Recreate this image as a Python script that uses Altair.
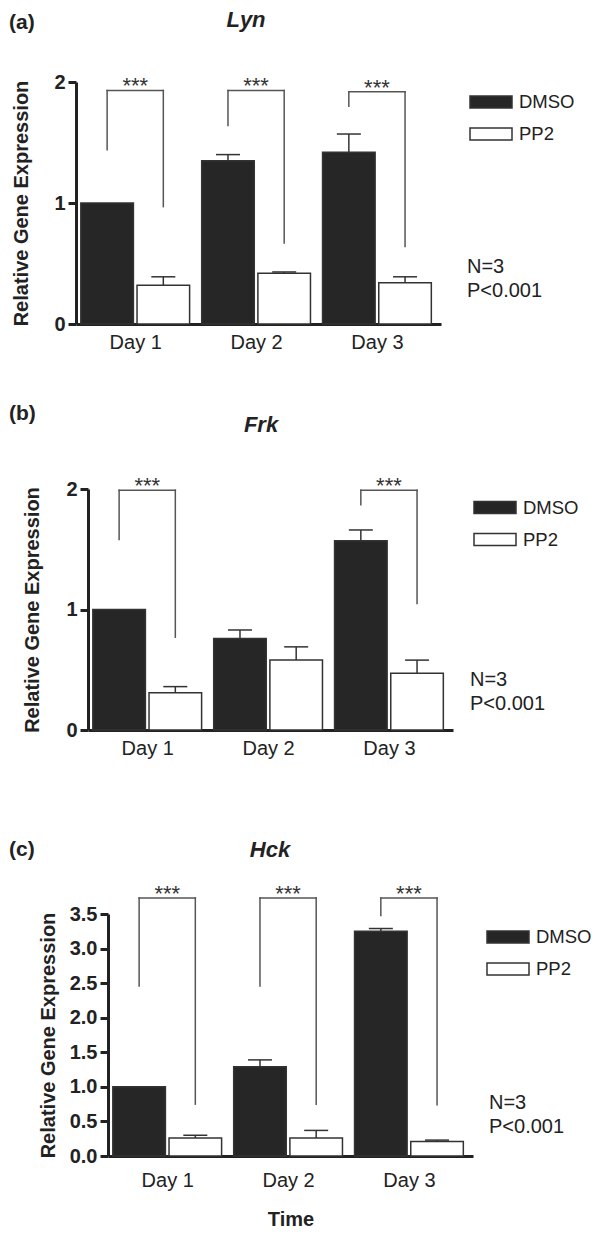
import altair as alt
import pandas as pd

FONT = "Liberation Sans"
INK = "#222222"

days = ["Day 1", "Day 2", "Day 3"]
treatments = ["DMSO", "PP2"]
bar_colors = ["#262626", "#ffffff"]
stats_text = ["N=3", "P<0.001"]

# (a) Lyn
lyn_dmso = [1.00, 1.35, 1.42]
lyn_dmso_err = [0.00, 0.05, 0.15]
lyn_pp2 = [0.32, 0.42, 0.34]
lyn_pp2_err = [0.07, 0.01, 0.05]
lyn_sig_days = ["Day 1", "Day 2", "Day 3"]
lyn_sig_top = [1.93, 1.93, 1.92]
lyn_sig_left = [1.44, 1.64, 1.80]
lyn_sig_right = [0.97, 0.67, 0.64]
lyn_ticks = [0.0, 1.0, 2.0]

# (b) Frk
frk_dmso = [1.00, 0.76, 1.57]
frk_dmso_err = [0.00, 0.07, 0.09]
frk_pp2 = [0.31, 0.58, 0.47]
frk_pp2_err = [0.05, 0.11, 0.11]
frk_sig_days = ["Day 1", "Day 3"]
frk_sig_top = [1.99, 1.99]
frk_sig_left = [1.58, 1.87]
frk_sig_right = [0.77, 1.05]
frk_ticks = [0.0, 1.0, 2.0]

# (c) Hck
hck_dmso = [1.00, 1.29, 3.25]
hck_dmso_err = [0.00, 0.10, 0.04]
hck_pp2 = [0.26, 0.26, 0.21]
hck_pp2_err = [0.04, 0.11, 0.02]
hck_sig_days = ["Day 1", "Day 2", "Day 3"]
hck_sig_top = [3.73, 3.73, 3.73]
hck_sig_left = [2.46, 2.46, 3.48]
hck_sig_right = [0.75, 0.75, 0.74]
hck_ticks = [0, 0.5, 1, 1.5, 2, 2.5, 3, 3.5]

HALF_GROUP = 0.2325   # distance of a bar centre from its day centre
HALF_BAR = 0.2175     # half bar width (x units)


def spacer():
    return alt.Chart(pd.DataFrame({"v": [0]})).mark_rect(opacity=0).encode(
        x=alt.value(0), x2=alt.value(1), y=alt.value(0), y2=alt.value(1)
    ).properties(width=1, height=1)


def panel(letter, gene, dmso, dmso_err, pp2, pp2_err,
          sig_days, sig_top, sig_left, sig_right,
          ymax, ticks, fmt, lay):
    rows = []
    for i, d in enumerate(days):
        for t, vals, errs in (("DMSO", dmso, dmso_err), ("PP2", pp2, pp2_err)):
            rows.append(dict(day=d, idx=i + 1, treatment=t, value=vals[i], err=errs[i]))
    df = pd.DataFrame(rows)
    side = df["treatment"].map({"DMSO": -1, "PP2": 1})
    df["xc"] = df["idx"] + side * HALF_GROUP
    df["x0"] = df["xc"] - HALF_BAR
    df["x1"] = df["xc"] + HALF_BAR
    df["upper"] = df["value"] + df["err"]
    df["base"] = 0.0
    dfe = df[df["err"] > 0]

    seg, stars = [], []
    for d, top, l, r in zip(sig_days, sig_top, sig_left, sig_right):
        i = days.index(d) + 1
        xl, xr = i - HALF_GROUP, i + HALF_GROUP
        seg += [dict(x=xl, x2=xr, y=top, y2=top),
                dict(x=xl, x2=xl, y=l, y2=top),
                dict(x=xr, x2=xr, y=r, y2=top)]
        stars.append(dict(x=i, y=top, s="***"))
    dseg = pd.DataFrame(seg)
    dstar = pd.DataFrame(stars)

    xs = alt.Scale(domain=[0.51, 3.53], nice=False, zero=False)
    ys = alt.Scale(domain=[0, ymax], nice=False)
    label_expr = "[" + ",".join("'%s'" % d for d in days) + "][datum.value - 1]"
    xaxis_kw = dict(values=[1, 2, 3], labelExpr=label_expr, ticks=False, grid=False,
                    labelFontSize=20, labelPadding=lay["xlabpad"], labelColor=INK,
                    labelFont=FONT)
    if lay.get("xtitle"):
        xaxis_kw.update(title=lay["xtitle"], titleFontSize=20, titleFontWeight="bold",
                        titlePadding=lay["xtitlepad"], titleFont=FONT, titleColor=INK)
    else:
        xaxis_kw.update(title=None)
    xaxis = alt.Axis(**xaxis_kw)
    yaxis = alt.Axis(values=ticks, format=fmt, title="Relative Gene Expression",
                     titleFontSize=20, titleFontWeight="bold", titleFont=FONT,
                     titleColor=INK, titlePadding=lay["ytitlepad"],
                     labelFontSize=20, labelFontWeight="bold", labelFont=FONT,
                     labelColor=INK, labelPadding=3, tickSize=8, grid=False,
                     labelOverlap=False, labelFlush=False)

    legend = alt.Legend(orient="none", legendX=lay["legx"], legendY=lay["legy"], title=None,
                        symbolType="M-1,-0.29L1,-0.29L1,0.29L-1,0.29Z", symbolSize=1764,
                        symbolStrokeColor="#333333", symbolStrokeWidth=1.5, symbolOpacity=1,
                        labelFontSize=18.5, labelFont=FONT, labelColor=INK, labelOffset=6,
                        rowPadding=-15)

    bars = alt.Chart(df).mark_bar(stroke="#333333", strokeWidth=1.5).encode(
        x=alt.X("x0:Q", scale=xs, axis=xaxis),
        x2="x1:Q",
        y=alt.Y("value:Q", scale=ys, axis=yaxis),
        y2="base:Q",
        fill=alt.Fill("treatment:N", scale=alt.Scale(domain=treatments, range=bar_colors),
                      legend=legend),
    )
    err_rule = alt.Chart(dfe).mark_rule(color="#333333", strokeWidth=1.5).encode(
        x=alt.X("xc:Q", scale=xs, axis=xaxis),
        y=alt.Y("value:Q", scale=ys, axis=yaxis),
        y2="upper:Q",
    )
    caps = alt.Chart(dfe).mark_tick(orient="horizontal", size=24, thickness=1.5,
                                    color="#333333", opacity=1).encode(
        x=alt.X("xc:Q", scale=xs, axis=xaxis),
        y=alt.Y("upper:Q", scale=ys, axis=yaxis),
    )
    brackets = alt.Chart(dseg).mark_rule(color="#555555", strokeWidth=1.5,
                                         strokeCap="square").encode(
        x=alt.X("x:Q", scale=xs, axis=xaxis), x2="x2:Q",
        y=alt.Y("y:Q", scale=ys, axis=yaxis), y2="y2:Q",
    )
    star_txt = alt.Chart(dstar).mark_text(font=FONT, fontSize=22, color="#333333",
                                          baseline="alphabetic", align="center", dy=3).encode(
        x=alt.X("x:Q", scale=xs, axis=xaxis),
        y=alt.Y("y:Q", scale=ys, axis=yaxis),
        text="s:N",
    )
    letter_txt = alt.Chart(pd.DataFrame({"t": [letter]})).mark_text(
        font=FONT, fontSize=21, fontWeight="bold", color=INK, align="left",
        baseline="middle").encode(text="t:N", x=alt.value(lay["lx"]), y=alt.value(lay["ly"]))
    gene_txt = alt.Chart(pd.DataFrame({"t": [gene]})).mark_text(
        font=FONT, fontSize=22, fontWeight="bold", fontStyle="italic", color=INK,
        align="center", baseline="middle").encode(
        text="t:N", x=alt.value(lay["gx"]), y=alt.value(lay["gy"]))
    stat_txt = alt.Chart(pd.DataFrame({"t": ["\n".join(stats_text)]})).mark_text(
        font=FONT, fontSize=20, color=INK, align="left", baseline="top",
        lineBreak="\n", lineHeight=24).encode(
        text="t:N", x=alt.value(lay["sx"]), y=alt.value(lay["sy"]))

    layered = alt.layer(bars, err_rule, caps, brackets, star_txt, letter_txt, gene_txt,
                        stat_txt).properties(width=365, height=lay["h"])
    return alt.hconcat(spacer(), layered, spacing=0)


pa = panel("(a)", "Lyn", lyn_dmso, lyn_dmso_err, lyn_pp2, lyn_pp2_err,
           lyn_sig_days, lyn_sig_top, lyn_sig_left, lyn_sig_right, 2, lyn_ticks, ".0f",
           dict(h=242, xlabpad=8, ytitlepad=22, legx=461, legy=-2,
                lx=-67, ly=-59, gx=170, gy=-62, sx=391, sy=175))
pb = panel("(b)", "Frk", frk_dmso, frk_dmso_err, frk_pp2, frk_pp2_err,
           frk_sig_days, frk_sig_top, frk_sig_left, frk_sig_right, 2, frk_ticks, ".0f",
           dict(h=241, xlabpad=8, ytitlepad=23, legx=465, legy=-3.5,
                lx=-79, ly=-75, gx=173, gy=-64, sx=382, sy=181))
pc = panel("(c)", "Hck", hck_dmso, hck_dmso_err, hck_pp2, hck_pp2_err,
           hck_sig_days, hck_sig_top, hck_sig_left, hck_sig_right, 3.5, hck_ticks, ".1f",
           dict(h=242, xlabpad=14, xtitle="Time", xtitlepad=19, ytitlepad=11, legx=478,
                legy=1, lx=-99, ly=-64, gx=162, gy=-64, sx=381, sy=179))

top_two = alt.vconcat(pa, pb, spacing=51).resolve_scale(
    fill="independent").resolve_legend(fill="independent")
chart = alt.vconcat(top_two, pc, spacing=81).resolve_scale(
    fill="independent").resolve_legend(fill="independent").properties(
    padding={"top": 1, "left": 0, "right": 0, "bottom": 0}, background="white"
).configure_view(stroke=None).configure_axis(
    domainColor=INK, domainWidth=3, tickColor=INK, tickWidth=3
)

chart.save("out.html", embed_options={"renderer": "svg", "actions": False})
